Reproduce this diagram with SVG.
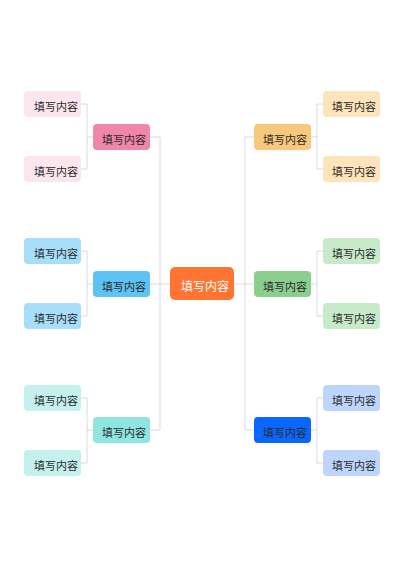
<svg xmlns="http://www.w3.org/2000/svg" width="400" height="566" viewBox="0 0 400 566">
<style>
text{font-family:"Noto Sans CJK SC","Noto Sans",sans-serif;font-size:11px;fill:#2b2b2b;text-anchor:middle;dominant-baseline:central}
.c text{font-size:12px;fill:#ffffff}
.conn path{fill:none;stroke:#d6dae1;stroke-width:1}
</style>
<rect width="400" height="566" fill="#ffffff"/>
<g class="conn">
<path d="M81,104 H87 V169 H81 M87,137 H93"/>
<path d="M81,251 H87 V316 H81 M87,284 H93"/>
<path d="M81,398 H87 V463 H81 M87,430 H93"/>
<path d="M150,137 H160 V430 H150 M150,284 H170"/>
<path d="M234,284 H254 M254,137 H245 V430 H254"/>
<path d="M323,104 H317 V169 H323 M317,137 H311"/>
<path d="M323,251 H317 V316 H323 M317,284 H311"/>
<path d="M323,398 H317 V463 H323 M317,430 H311"/>
</g>
<g id="center" class="c"><rect x="170" y="267" width="64" height="33" rx="5" fill="#ff7433"/><text x="205" y="285.5">填写内容</text></g>
<g id="l1"><rect x="93" y="124" width="57" height="26" rx="4" fill="#f086a9"/><text x="124" y="138.5">填写内容</text></g>
<g id="l2"><rect x="93" y="271" width="57" height="26" rx="4" fill="#5cc3f4"/><text x="124" y="285.5">填写内容</text></g>
<g id="l3"><rect x="93" y="417" width="57" height="26" rx="4" fill="#8fe5e0"/><text x="124" y="431.5">填写内容</text></g>
<g id="r1"><rect x="254" y="124" width="57" height="26" rx="4" fill="#f8c97c"/><text x="285" y="138.5">填写内容</text></g>
<g id="r2"><rect x="254" y="271" width="57" height="26" rx="4" fill="#8bcf8f"/><text x="285" y="285.5">填写内容</text></g>
<g id="r3"><rect x="254" y="417" width="57" height="26" rx="4" fill="#0a66ff"/><text x="285" y="431.5">填写内容</text></g>
<g id="l1a"><rect x="24" y="91" width="57" height="26" rx="4" fill="#fce6ee"/><text x="56" y="105.5">填写内容</text></g>
<g id="l1b"><rect x="24" y="156" width="57" height="26" rx="4" fill="#fce6ee"/><text x="56" y="170.5">填写内容</text></g>
<g id="l2a"><rect x="24" y="238" width="57" height="26" rx="4" fill="#a7defa"/><text x="56" y="252.5">填写内容</text></g>
<g id="l2b"><rect x="24" y="303" width="57" height="26" rx="4" fill="#a7defa"/><text x="56" y="317.5">填写内容</text></g>
<g id="l3a"><rect x="24" y="385" width="57" height="26" rx="4" fill="#c4f1ee"/><text x="56" y="399.5">填写内容</text></g>
<g id="l3b"><rect x="24" y="450" width="57" height="26" rx="4" fill="#c4f1ee"/><text x="56" y="464.5">填写内容</text></g>
<g id="r1a"><rect x="323" y="91" width="57" height="26" rx="4" fill="#fde4ba"/><text x="354" y="105.5">填写内容</text></g>
<g id="r1b"><rect x="323" y="156" width="57" height="26" rx="4" fill="#fde4ba"/><text x="354" y="170.5">填写内容</text></g>
<g id="r2a"><rect x="323" y="238" width="57" height="26" rx="4" fill="#c7eac9"/><text x="354" y="252.5">填写内容</text></g>
<g id="r2b"><rect x="323" y="303" width="57" height="26" rx="4" fill="#c7eac9"/><text x="354" y="317.5">填写内容</text></g>
<g id="r3a"><rect x="323" y="385" width="57" height="26" rx="4" fill="#bdd4fb"/><text x="354" y="399.5">填写内容</text></g>
<g id="r3b"><rect x="323" y="450" width="57" height="26" rx="4" fill="#bdd4fb"/><text x="354" y="464.5">填写内容</text></g>
</svg>
